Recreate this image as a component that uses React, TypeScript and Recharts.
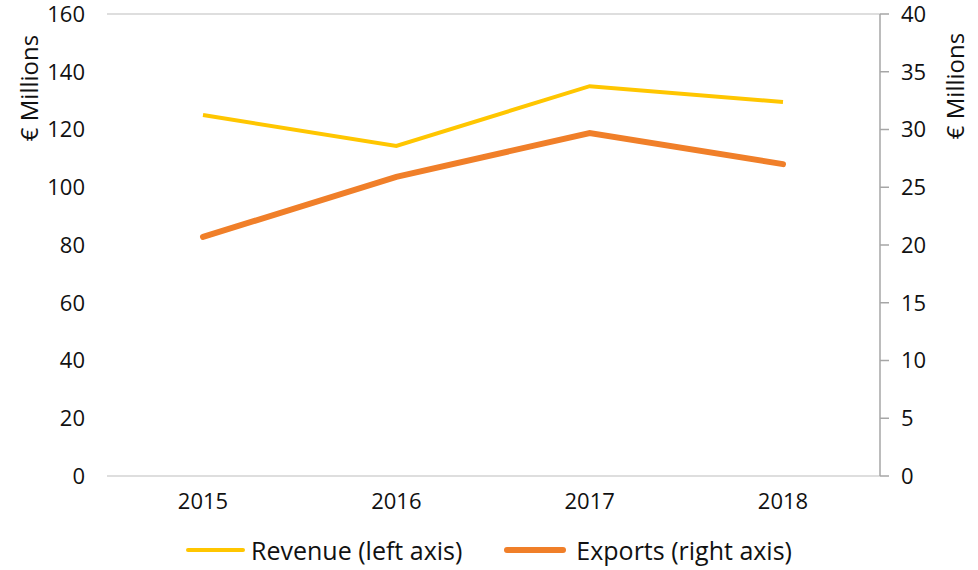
import { LineChart, Line, XAxis, YAxis, CartesianGrid, Legend, Label } from 'recharts'

const years = ['2015', '2016', '2017', '2018']
const revenue = [125, 114.3, 135, 129.5]
const exportsVals = [20.7, 25.9, 29.7, 27.0]
const leftTicks = [0, 20, 40, 60, 80, 100, 120, 140, 160]
const rightTicks = [0, 5, 10, 15, 20, 25, 30, 35, 40]

const data = years.map((y, i) => ({ year: y, revenue: revenue[i], exports: exportsVals[i] }))

const font = '"Open Sans", sans-serif'
const YELLOW = '#FFC600'
const ORANGE = '#F07F29'

const LegendBox = () => (
  <div style={{ display: 'flex', justifyContent: 'center', alignItems: 'center', paddingTop: 13, fontFamily: font, fontSize: 25, color: '#111' }}>
    <span style={{ display: 'inline-block', width: 59, height: 4, borderRadius: 2, background: YELLOW, marginRight: 6 }} />
    <span style={{ marginRight: 42 }}>Revenue (left axis)</span>
    <span style={{ display: 'inline-block', width: 62, height: 6, borderRadius: 3, background: ORANGE, marginRight: 10 }} />
    <span>Exports (right axis)</span>
  </div>
)

export default function App() {
  return (
    <div style={{ position: 'absolute', left: 0, top: 0, background: '#fff' }}>
      <LineChart width={978} height={570} data={data} margin={{ top: 14, right: 0, left: 0, bottom: 0 }}>
        <CartesianGrid vertical={false} stroke="#D3D3D3" strokeWidth={1.5} />
        <XAxis dataKey="year" axisLine={false} tickLine={false} tickSize={0} tickMargin={17} height={44}
          padding={{ left: 96, right: 97 }}
          tick={{ fontFamily: font, fontSize: 22, fill: '#111' }} />
        <YAxis yAxisId="left" domain={[0, 160]} ticks={leftTicks} width={107} axisLine={false} tickLine={false}
          tickSize={0} tickMargin={22} tick={{ fontFamily: font, fontSize: 22, fill: '#111' }}>
          <Label content={() => (
            <text transform="translate(28,88) rotate(-90)" textAnchor="middle" dominantBaseline="central"
              style={{ fontFamily: font, fontSize: 24, fill: '#111' }}>€ Millions</text>
          )} />
        </YAxis>
        <YAxis yAxisId="right" orientation="right" domain={[0, 40]} ticks={rightTicks} width={98}
          axisLine={{ stroke: '#A6A6A6', strokeWidth: 1.5 }} tickLine={{ stroke: '#A6A6A6', strokeWidth: 1.5 }}
          tickSize={9} tickMargin={12} tick={{ fontFamily: font, fontSize: 22, fill: '#111', textAnchor: 'start' }}>
          <Label content={() => (
            <text transform="translate(954,86) rotate(-90)" textAnchor="middle" dominantBaseline="central"
              style={{ fontFamily: font, fontSize: 24, fill: '#111' }}>€ Millions</text>
          )} />
        </YAxis>
        <Legend verticalAlign="bottom" height={50} content={() => <LegendBox />} />
        <Line yAxisId="left" dataKey="revenue" stroke={YELLOW} strokeWidth={4} dot={false} isAnimationActive={false} />
        <Line yAxisId="right" dataKey="exports" stroke={ORANGE} strokeWidth={6} dot={false} isAnimationActive={false} strokeLinecap="round" />
      </LineChart>
    </div>
  )
}
